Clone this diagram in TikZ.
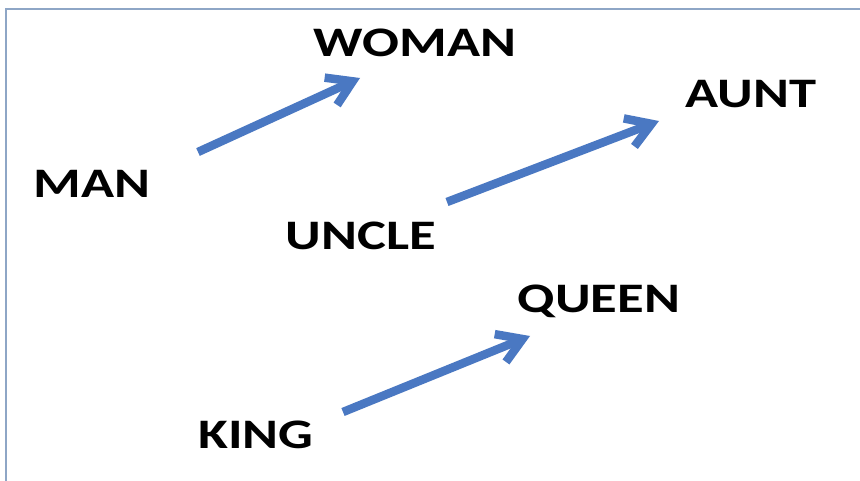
\documentclass[tikz,border=0pt]{standalone}
\usepackage{fontspec}
\setmainfont{Carlito}
\usetikzlibrary{arrows.meta}
\definecolor{arrowblue}{HTML}{4A78C2}
\definecolor{framecol}{HTML}{8EA6C6}
\newcommand{\widetxt}[1]{\scalebox{1.3}[1]{#1}}
\begin{document}
\begin{tikzpicture}[x=1pt,y=-1pt,
  word/.style={font=\fontsize{42}{48}\selectfont\bfseries, inner sep=0pt, anchor=center},
  vec/.style={draw=arrowblue, line width=8.5pt, -{Straight Barb[length=24pt,width=30pt,line width=8.5pt]}}]
\useasboundingbox (0,0) rectangle (860,481);
\fill[white] (0,0) rectangle (860,481);
\draw[framecol, line width=2pt] (6,481) -- (6,9.5) -- (860,9.5);
\node[word] (woman) at (415,43) {\widetxt{WOMAN}};
\node[word] (man) at (92,184) {\widetxt{MAN}};
\node[word] (aunt) at (751,94) {\widetxt{AUNT}};
\node[word] (uncle) at (361,236) {\widetxt{UNCLE}};
\node[word] (queen) at (599,301) {\widetxt{QUEEN}};
\node[word] (king) at (256,435) {\widetxt{KING}};
\coordinate (s1) at (198,152);
\coordinate (e1) at (360,78);
\coordinate (s2) at (447,202);
\coordinate (e2) at (659,121);
\coordinate (s3) at (343,412);
\coordinate (e3) at (530,336);
\draw[vec] (s1) -- (e1);
\draw[vec] (s2) -- (e2);
\draw[vec] (s3) -- (e3);
\end{tikzpicture}
\end{document}
